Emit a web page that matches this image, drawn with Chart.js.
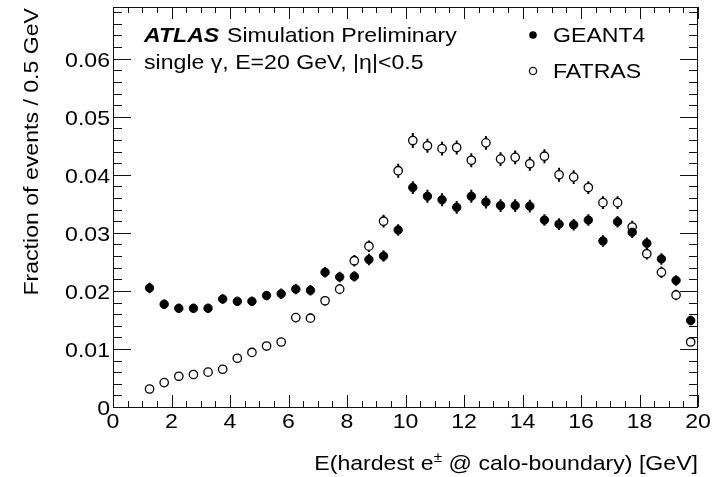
<!DOCTYPE html>
<html>
<head>
<meta charset="utf-8">
<script src="https://cdn.jsdelivr.net/npm/chart.js@4.4.0/dist/chart.umd.min.js"></script>
<style>
  body { margin: 0; background: #fff; }
  canvas { display: block; }
</style>
</head>
<body>
<canvas id="c" width="722" height="477"></canvas>
<script>
// ── Data ───────────────────────────────────────────────────
const binCenters = [1.25, 1.75, 2.25, 2.75, 3.25, 3.75, 4.25, 4.75, 5.25, 5.75,
                    6.25, 6.75, 7.25, 7.75, 8.25, 8.75, 9.25, 9.75, 10.25, 10.75,
                    11.25, 11.75, 12.25, 12.75, 13.25, 13.75, 14.25, 14.75, 15.25, 15.75,
                    16.25, 16.75, 17.25, 17.75, 18.25, 18.75, 19.25, 19.75];

const geant4 = [0.0205, 0.0177, 0.0170, 0.0170, 0.0170, 0.0186, 0.0182, 0.0182, 0.0192, 0.0195,
                0.0203, 0.0201, 0.0232, 0.0224, 0.0225, 0.0254, 0.0260, 0.0305, 0.0378, 0.0363,
                0.0357, 0.0344, 0.0363, 0.0353, 0.0347, 0.0347, 0.0346, 0.0322, 0.0315, 0.0314,
                0.0322, 0.0286, 0.0319, 0.0301, 0.0282, 0.0255, 0.0218, 0.0149];
const geant4Err = [0.0009, 0.0008, 0.0008, 0.0008, 0.0008, 0.0008, 0.0008, 0.0008, 0.0008, 0.0009,
                   0.0009, 0.0009, 0.0009, 0.0009, 0.0009, 0.0010, 0.0010, 0.0010, 0.0011, 0.0011,
                   0.0011, 0.0011, 0.0011, 0.0011, 0.0011, 0.0011, 0.0011, 0.0010, 0.0010, 0.0010,
                   0.0010, 0.0010, 0.0010, 0.0010, 0.0010, 0.0010, 0.0009, 0.0008];

const fatras = [0.0031, 0.0042, 0.0053, 0.0056, 0.0060, 0.0065, 0.0084, 0.0094, 0.0105, 0.0112,
                0.0154, 0.0153, 0.0183, 0.0203, 0.0252, 0.0277, 0.0320, 0.0407, 0.0459, 0.0450,
                0.0445, 0.0447, 0.0425, 0.0455, 0.0427, 0.0430, 0.0419, 0.0432, 0.0400, 0.0396,
                0.0378, 0.0352, 0.0352, 0.0310, 0.0264, 0.0232, 0.0193, 0.0112];
const fatrasErr = [0.0004, 0.0004, 0.0005, 0.0005, 0.0005, 0.0005, 0.0006, 0.0006, 0.0006, 0.0007,
                   0.0008, 0.0008, 0.0008, 0.0009, 0.0010, 0.0010, 0.0011, 0.0012, 0.0013, 0.0012,
                   0.0012, 0.0012, 0.0012, 0.0012, 0.0012, 0.0012, 0.0012, 0.0012, 0.0012, 0.0012,
                   0.0011, 0.0011, 0.0011, 0.0011, 0.0010, 0.0010, 0.0009, 0.0007];

const xTicks = [0, 2, 4, 6, 8, 10, 12, 14, 16, 18, 20];
const xTickLabels = ['0', '2', '4', '6', '8', '10', '12', '14', '16', '18', '20'];
const yTicks = [0, 0.01, 0.02, 0.03, 0.04, 0.05, 0.06];
const yTickLabels = ['0', '0.01', '0.02', '0.03', '0.04', '0.05', '0.06'];

const FONT = '"Liberation Sans", Arial, sans-serif';
const SX = 1.1;          // ROOT text renders a bit wider than Liberation
const MARKER_R = 4.2;

// Draw text stretched along its baseline
function text(ctx, str, x, y, align, font, rot) {
  ctx.save();
  ctx.translate(x, y);
  if (rot) ctx.rotate(rot);
  ctx.scale(SX, 1);
  ctx.font = font;
  ctx.textAlign = align || 'left';
  ctx.textBaseline = 'alphabetic';
  ctx.fillText(str, 0, 0);
  ctx.restore();
}

// ── Error bars (drawn outside the marker, ROOT style) ─────
const errorBars = {
  id: 'errorBars',
  beforeDatasetsDraw(chart) {
    const { ctx, scales: { x, y } } = chart;
    const errs = [geant4Err, fatrasErr];
    ctx.save();
    ctx.strokeStyle = '#000';
    ctx.lineWidth = 2;
    chart.data.datasets.forEach((ds, di) => {
      ds.data.forEach((p, i) => {
        const px = x.getPixelForValue(p.x);
        const py = y.getPixelForValue(p.y);
        const hi = y.getPixelForValue(p.y + errs[di][i]);
        const lo = y.getPixelForValue(p.y - errs[di][i]);
        ctx.beginPath();
        if (py - hi > MARKER_R) { ctx.moveTo(px, hi); ctx.lineTo(px, py - MARKER_R); }
        if (lo - py > MARKER_R) { ctx.moveTo(px, py + MARKER_R); ctx.lineTo(px, lo); }
        ctx.stroke();
      });
    });
    ctx.restore();
  },
};

// ── Frame, inward ticks, labels, titles, legend ───────────
const rootFrame = {
  id: 'rootFrame',
  afterDraw(chart) {
    const { ctx, chartArea: a, scales: { x, y } } = chart;
    ctx.save();
    ctx.strokeStyle = '#111';
    ctx.lineWidth = 1;
    ctx.strokeRect(a.left + 0.5, a.top + 0.5, a.right - a.left - 1, a.bottom - a.top);

    ctx.beginPath();
    // x ticks, every 0.5, major every 2
    for (let v = 0; v <= 20.001; v += 0.5) {
      const px = Math.round(x.getPixelForValue(v)) + 0.5;
      const len = (Math.abs(v / 2 - Math.round(v / 2)) < 1e-6) ? 12 : 6;
      ctx.moveTo(px, a.bottom); ctx.lineTo(px, a.bottom - len);
      ctx.moveTo(px, a.top); ctx.lineTo(px, a.top + len);
    }
    // y ticks, every 0.002, major every 0.01
    for (let k = 0; k * 0.002 <= y.max; k++) {
      const py = Math.round(y.getPixelForValue(k * 0.002)) + 0.5;
      const len = (k % 5 === 0) ? 18 : 9;
      ctx.moveTo(a.left, py); ctx.lineTo(a.left + len, py);
      ctx.moveTo(a.right, py); ctx.lineTo(a.right - len, py);
    }
    ctx.stroke();

    ctx.fillStyle = '#000';
    const f21 = '21px ' + FONT;
    xTicks.forEach((v, i) => text(ctx, xTickLabels[i], x.getPixelForValue(v), 428, 'center', f21));
    yTicks.forEach((v, i) => text(ctx, yTickLabels[i], 110, y.getPixelForValue(v) + 8, 'right', f21));

    // y title, right-aligned to the top
    text(ctx, 'Fraction of events / 0.5 GeV', 38, 8, 'right', f21, -Math.PI / 2);

    // x title with superscript ±
    ctx.save();
    ctx.translate(698, 470);
    ctx.scale(SX, 1);
    ctx.textAlign = 'left';
    const p1 = 'E(hardest e', sup = '\u00b1', p2 = ' @ calo-boundary) [GeV]';
    ctx.font = f21; const w1 = ctx.measureText(p1).width, w2 = ctx.measureText(p2).width;
    ctx.font = '14px ' + FONT; const ws = ctx.measureText(sup).width;
    let cx = -(w1 + ws + w2);
    ctx.font = f21; ctx.fillText(p1, cx, 0); cx += w1;
    ctx.font = '14px ' + FONT; ctx.fillText(sup, cx, -8); cx += ws;
    ctx.font = f21; ctx.fillText(p2, cx, 0);
    ctx.restore();

    // header
    text(ctx, 'ATLAS', 144, 42, 'left', 'italic bold 21px ' + FONT);
    text(ctx, 'Simulation Preliminary', 227, 42, 'left', f21);
    text(ctx, 'single \u03b3, E=20 GeV, |\u03b7|<0.5', 144, 69, 'left', f21);

    // legend
    ctx.lineWidth = 1.3;
    ctx.fillStyle = '#000';
    ctx.beginPath(); ctx.arc(533, 35, 3.8, 0, Math.PI * 2); ctx.fill();
    ctx.beginPath(); ctx.arc(533, 71, 3.6, 0, Math.PI * 2); ctx.stroke();
    text(ctx, 'GEANT4', 553, 42, 'left', f21);
    text(ctx, 'FATRAS', 553, 78, 'left', f21);
    ctx.restore();
  },
};

const toPoints = vals => vals.map((v, i) => ({ x: binCenters[i], y: v }));

function draw() {
  new Chart(document.getElementById('c'), {
    type: 'scatter',
    data: {
      datasets: [
        {
          label: 'GEANT4',
          data: toPoints(geant4),
          pointRadius: MARKER_R,
          pointBackgroundColor: '#000',
          pointBorderColor: '#000',
          pointBorderWidth: 1,
        },
        {
          label: 'FATRAS',
          data: toPoints(fatras),
          pointRadius: MARKER_R,
          pointBackgroundColor: '#fff',
          pointBorderColor: '#000',
          pointBorderWidth: 1.3,
        },
      ],
    },
    options: {
      responsive: false,
      animation: false,
      devicePixelRatio: 1,
      layout: { padding: { left: 113, top: 7, right: 24, bottom: 70 } },
      plugins: { legend: { display: false }, tooltip: { enabled: false } },
      scales: {
        x: { type: 'linear', display: false, min: 0, max: 20 },
        y: { type: 'linear', display: false, min: 0, max: 0.0689 },
      },
    },
    plugins: [errorBars, rootFrame],
  });
}

document.fonts.load('21px "Liberation Sans"').then(draw, draw);
</script>
</body>
</html>
